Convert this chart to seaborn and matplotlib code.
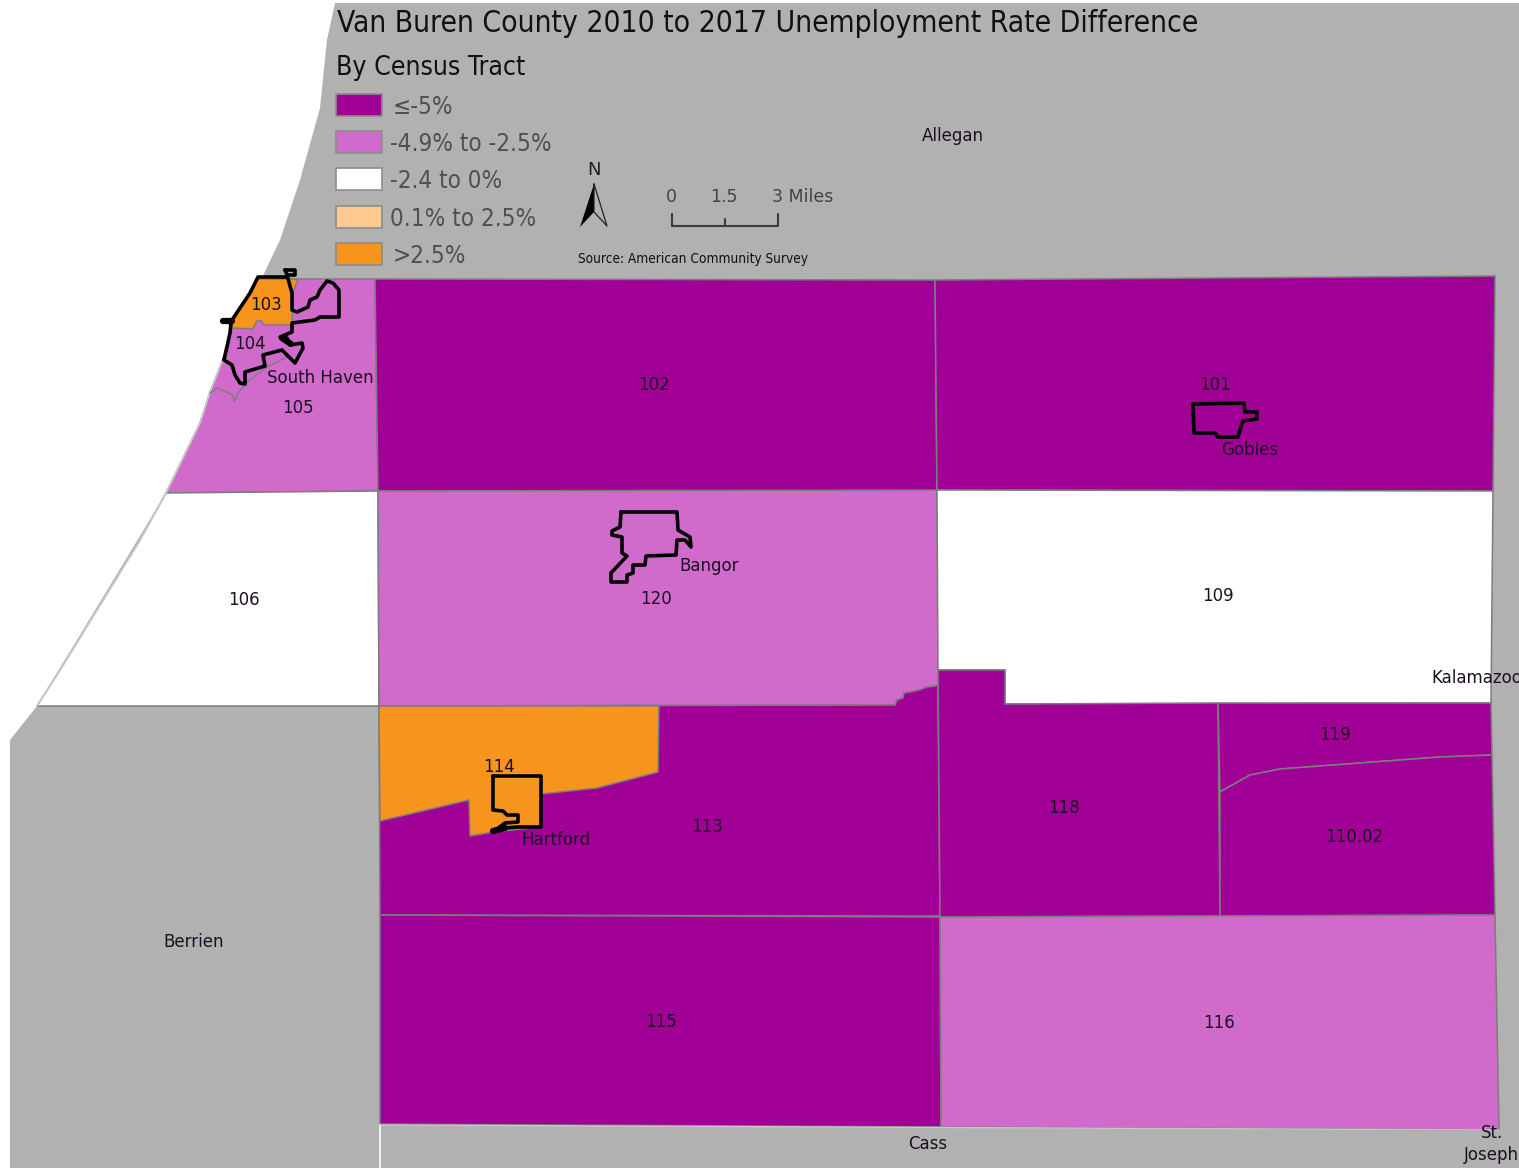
import matplotlib
matplotlib.use("Agg")
import matplotlib.pyplot as plt
import pandas as pd
import seaborn as sns
from matplotlib.patches import Rectangle

PURPLE = "#A00096"
PINK = "#D06BCB"
PALE = "#FDC98F"
ORANGE = "#F7941D"
GRAY = "#B1B1B1"
EDGE = "#7d7d7d"

# legend
legend_labels = ["≤-5%", "-4.9% to -2.5%", "-2.4 to 0%", "0.1% to 2.5%", ">2.5%"]
legend_colors = [PURPLE, PINK, "white", PALE, ORANGE]
legend_tops = [94, 131, 168, 206, 243]
legend_text_x = [393, 390, 390, 390, 393]

# map outlines, traced in image pixels
surrounding = [(335, 3), (1519, 3), (1519, 1168), (10, 1168), (10, 740), (37, 706),
               (166, 493), (200, 423), (210, 392), (222, 362), (232, 320), (262, 278),
               (280, 240), (300, 180), (320, 108), (327, 40)]
tract_105 = [(166, 493), (378, 491), (375, 279), (262, 279), (232, 328), (222, 362),
             (210, 392), (200, 423)]
tract_103 = [(258, 279), (298, 279), (293, 293), (292, 325), (263, 325), (262, 321),
             (257, 321), (253, 329), (232, 328), (232, 320), (250, 293)]
tract_102 = [(375, 279), (935, 280), (937, 491), (378, 491)]
tract_101 = [(935, 280), (1495, 276), (1493, 491), (937, 490)]
tract_106 = [(166, 493), (378, 491), (379, 706), (37, 706), (60, 670), (100, 605), (140, 540)]
tract_120 = [(378, 491), (937, 490), (938, 685), (935, 686), (927, 687), (919, 690),
             (910, 692), (904, 693), (903, 698), (897, 700), (895, 705), (379, 706)]
tract_109 = [(937, 490), (1493, 491), (1491, 703), (1005, 704), (1005, 670), (938, 670)]
tract_113 = [(379, 706), (895, 705), (897, 700), (903, 698), (904, 693), (910, 692),
             (919, 690), (927, 687), (935, 686), (938, 685), (940, 916), (380, 915)]
tract_114 = [(379, 706), (659, 706), (658, 772), (597, 788), (541, 794), (541, 827),
             (493, 832), (470, 836), (469, 800), (380, 821)]
tract_118 = [(938, 670), (1005, 670), (1005, 704), (1218, 703), (1220, 916), (940, 917)]
tract_119 = [(1218, 703), (1491, 703), (1492, 755), (1440, 757), (1280, 769), (1250, 775),
             (1220, 792)]
tract_110 = [(1220, 792), (1250, 775), (1280, 769), (1440, 757), (1492, 755), (1495, 915),
             (1220, 916)]
tract_115 = [(380, 915), (940, 917), (941, 1127), (380, 1124)]
tract_116 = [(940, 917), (1495, 915), (1499, 1130), (941, 1127)]

tracts = [(tract_105, PINK), (tract_103, ORANGE), (tract_102, PURPLE), (tract_101, PURPLE),
          (tract_106, "white"), (tract_120, PINK), (tract_109, "white"), (tract_113, PURPLE),
          (tract_114, ORANGE), (tract_118, PURPLE), (tract_119, PURPLE), (tract_110, PURPLE),
          (tract_115, PURPLE), (tract_116, PINK)]

# lake shore of the two coastal tracts, much paler than the tract lines
shoreline = [(37, 706), (60, 670), (100, 605), (140, 540), (166, 493), (200, 423), (210, 392),
             (222, 362)]

# thin line inside tract 105
inner_105 = [(210, 393), (217, 388), (233, 395), (234, 402), (238, 393), (247, 382),
             (267, 367), (287, 357)]

# city limits
south_haven = [(285, 270), (295, 270), (295, 275), (287, 275), (287, 277), (258, 277),
               (250, 293), (232, 320), (223, 321), (231, 323), (230, 333), (224, 360),
               (232, 365), (235, 375), (240, 383), (245, 384), (245, 372), (265, 366),
               (263, 355), (282, 350), (290, 358), (295, 363), (303, 348), (302, 343),
               (290, 345), (287, 338), (280, 337), (292, 332), (292, 323), (315, 320),
               (320, 317), (339, 317), (339, 290), (333, 283), (327, 281), (320, 290),
               (317, 297), (310, 300), (308, 307), (297, 312), (292, 310), (292, 293),
               (287, 275), (285, 270)]
hartford = [(493, 776), (541, 776), (541, 827), (517, 827), (505, 828), (493, 832),
            (505, 823), (518, 822), (518, 815), (507, 815), (503, 811), (493, 810), (493, 776)]
bangor = [(621, 512), (677, 512), (678, 530), (690, 537), (691, 547), (685, 540), (677, 540),
          (676, 555), (646, 556), (645, 565), (633, 565), (633, 573), (627, 575), (627, 582),
          (611, 582), (611, 573), (627, 556), (622, 553), (622, 537), (612, 535), (612, 531),
          (620, 527), (621, 512)]
gobles = [(1193, 404), (1244, 403), (1245, 412), (1257, 412), (1257, 419), (1243, 421),
          (1240, 430), (1238, 437), (1218, 437), (1215, 433), (1194, 433), (1193, 404)]
cities = [south_haven, hartford, bangor, gobles]

# spots where the city line runs heavier
hartford_heavy = [(493, 831), (505, 828)]
haven_heavy = [(223, 321), (232, 321)]
haven_heavy_2 = [(282, 338), (291, 344)]

# map labels
place_names = ["103", "104", "South Haven", "105", "102", "101", "Gobles", "106", "Bangor",
               "120", "109", "Kalamazoo", "119", "114", "Hartford", "113", "118", "110.02",
               "115", "116", "Allegan", "Berrien", "Cass", "St.", "Joseph"]
place_x = [266, 250, 320, 298, 654, 1215, 1250, 244, 709, 656, 1218, 1431, 1335, 499, 556, 707,
           1064, 1354, 661, 1219, 953, 194, 928, 1492, 1464]
place_y = [305, 344, 378, 408, 385, 385, 450, 600, 566, 599, 596, 678, 735, 767, 840, 827, 808,
           837, 1022, 1023, 136, 942, 1144, 1133, 1155]

scale_ticks = ["0", "1.5", "3 Miles"]

sns.set_theme(style="white")
plt.rcParams["font.family"] = ["DejaVu Sans"]

fig = plt.figure(figsize=(15.19, 11.68), dpi=100, facecolor="white")
ax = fig.add_axes([0, 0, 1, 1])
ax.set_xlim(0, 1519)
ax.set_ylim(1168, 0)
ax.axis("off")


def draw_line(points, color, width):
    df = pd.DataFrame(points, columns=["x", "y"])
    sns.lineplot(data=df, x="x", y="y", sort=False, estimator=None, color=color,
                 linewidth=width, ax=ax, zorder=5, solid_joinstyle="round")


ax.fill(*zip(*surrounding), color=GRAY, lw=0)
ax.plot([380, 380], [1125, 1168], color="white", lw=1.2)
ax.plot([380, 1499], [1125, 1130], color="#c8c8c8", lw=1)

for shape, colour in tracts:
    ax.fill(*zip(*shape), facecolor=colour, edgecolor=EDGE, lw=1.1)

draw_line(shoreline, "#c9c9c9", 1.3)
draw_line(inner_105, EDGE, 1)
for city in cities:
    draw_line(city, "black", 2.6)
draw_line(hartford_heavy, "black", 4.5)
draw_line(haven_heavy, "black", 4.5)
draw_line(haven_heavy_2, "black", 4.5)

for name, px, py in zip(place_names, place_x, place_y):
    ha = "left" if name in ("Kalamazoo", "Joseph") else "center"
    ax.text(px, py, name, fontsize=12, ha=ha, va="center", color="#1c1020", clip_on=True, zorder=6)

ax.text(337, 23, "Van Buren County 2010 to 2017 Unemployment Rate Difference", fontsize=21.55,
        fontstretch="condensed", family="DejaVu Sans", va="center", color="#111111")
ax.text(336, 68, "By Census Tract", fontsize=19.1, fontstretch="condensed", family="DejaVu Sans",
        va="center", color="#111111")

for label, colour, top, tx in zip(legend_labels, legend_colors, legend_tops, legend_text_x):
    ax.add_patch(Rectangle((336, top), 46, 22, facecolor=colour, edgecolor="#8c8c8c", lw=1.2))
    ax.text(tx, top + 13, label, fontsize=17.4, fontstretch="condensed", family="DejaVu Sans",
            va="center", color="#505050")

# north arrow
ax.fill([594, 580, 594], [184, 227, 212], color="black", lw=0)
ax.plot([594, 607, 594, 594], [184, 226, 212, 184], color="#222222", lw=0.9)
ax.text(594, 170, "N", fontsize=13, ha="center", va="center", color="#222222")

# scale bar
ax.plot([672, 672, 778, 778], [214, 226, 226, 214], color="#3c3c3c", lw=1.5)
ax.plot([725, 725], [219, 226], color="#3c3c3c", lw=1.5)
ax.text(671, 197, scale_ticks[0], fontsize=12.5, ha="center", va="center", color="#444444")
ax.text(724, 197, scale_ticks[1], fontsize=12.5, ha="center", va="center", color="#444444")
ax.text(772, 197, scale_ticks[2], fontsize=12.5, ha="left", va="center", color="#444444")

ax.text(578, 259, "Source: American Community Survey", fontsize=9.8, fontstretch="condensed",
        family="DejaVu Sans", va="center", color="#111111")

fig.savefig("out.png", dpi=100)
